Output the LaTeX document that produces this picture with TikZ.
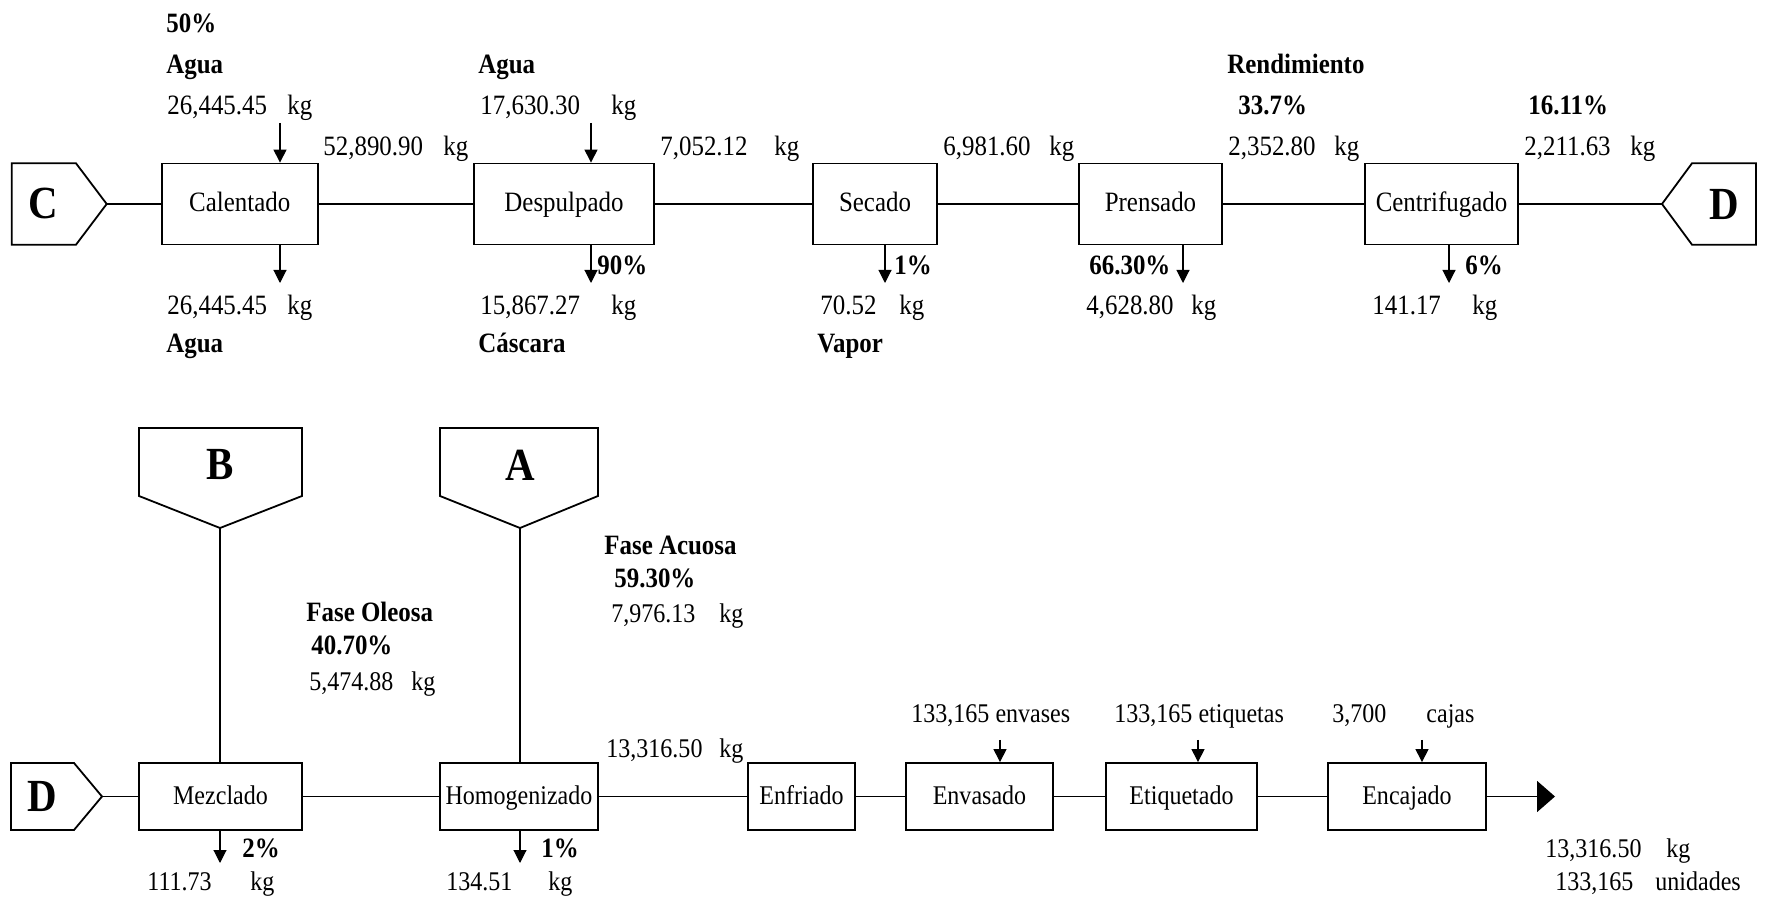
\documentclass[tikz,border=0pt]{standalone}
\usepackage{fontspec}
\setmainfont{Liberation Serif}[FakeStretch=0.89]
\usetikzlibrary{arrows.meta}

\begin{document}
\begin{tikzpicture}[x=0.5pt,y=-0.5pt,
  proc/.style={draw,line width=0.9pt,inner sep=0pt,text height=0.8em,text depth=0pt,
    font=\fontsize{14}{16}\selectfont},
  toprow/.style={minimum height=40.5pt},
  botrow/.style={minimum height=33.5pt,font=\fontsize{13.5}{16}\selectfont},
  connector/.style={draw,line width=0.9pt,fill=white},
  conn/.style={line width=0.9pt},
  arr/.style={line width=0.55pt,-{Triangle[length=6.5pt,width=6.5pt]}},
  lbl/.style={inner sep=0pt,anchor=base west,font=\fontsize{14}{16}\selectfont},
  lblb/.style={lbl,font=\fontsize{14}{16}\selectfont\bfseries},
  lbls/.style={lbl,font=\fontsize{13.5}{16}\selectfont},
  tag/.style={inner sep=0pt,font=\fontsize{23}{26}\selectfont\bfseries}
]
\useasboundingbox (0,0) rectangle (1769,898);

% ---------- first line: C to D ----------
\draw[connector] (11.7,163.3) -- (76,163.3) -- (106.7,204) -- (76,244.7) -- (11.7,244.7) -- cycle;
\coordinate (Cp) at (106.7,204);
\node[tag] (labC) at (43,204) {C};

\draw[connector] (1756,163.3) -- (1692,163.3) -- (1662,204) -- (1692,244.7) -- (1756,244.7) -- cycle;
\coordinate (Dp) at (1662,204);
\node[tag] (labD) at (1724,204) {D};

\node[proc,toprow,minimum width=78pt]   (cal)  at (239.7,204)  {Calentado};
\node[proc,toprow,minimum width=90pt]   (desp) at (564,204)    {Despulpado};
\node[proc,toprow,minimum width=62pt]   (sec)  at (875,204)    {Secado};
\node[proc,toprow,minimum width=71.5pt] (pren) at (1150.5,204) {Prensado};
\node[proc,toprow,minimum width=76.5pt] (cent) at (1441.5,204) {Centrifugado};

\draw[conn] (Cp) -- (cal.west);
\draw[conn] (cal.east) -- (desp.west);
\draw[conn] (desp.east) -- (sec.west);
\draw[conn] (sec.east) -- (pren.west);
\draw[conn] (pren.east) -- (cent.west);
\draw[conn] (cent.east) -- (Dp);

% inputs and outputs
\coordinate (calIn) at (280,123);
\coordinate (calOut) at (280,283);
\coordinate (despIn) at (591,123);
\coordinate (despOut) at (591,283);
\coordinate (secOut) at (885,283);
\coordinate (prenOut) at (1183,283);
\coordinate (centOut) at (1449,283);
\draw[arr] (calIn) -- (calIn |- cal.north);
\draw[arr] (calOut |- cal.south) -- (calOut);
\draw[arr] (despIn) -- (despIn |- desp.north);
\draw[arr] (despOut |- desp.south) -- (despOut);
\draw[arr] (secOut |- sec.south) -- (secOut);
\draw[arr] (prenOut |- pren.south) -- (prenOut);
\draw[arr] (centOut |- cent.south) -- (centOut);

% quantities above the line
\node[lblb] (p50)   at (166,33)   {50\%};
\node[lblb] (agua1) at (166,74)   {Agua};
\node[lbl]  (q1)    at (167,115)  {26,445.45};
\node[lbl]  (q1u)   at (287,115)  {kg};
\node[lbl]  (q2)    at (323,156)  {52,890.90};
\node[lbl]  (q2u)   at (443,156)  {kg};
\node[lblb] (agua2) at (478,74)   {Agua};
\node[lbl]  (q3)    at (480,115)  {17,630.30};
\node[lbl]  (q3u)   at (611,115)  {kg};
\node[lbl]  (q4)    at (660,156)  {7,052.12};
\node[lbl]  (q4u)   at (774,156)  {kg};
\node[lbl]  (q5)    at (943,156)  {6,981.60};
\node[lbl]  (q5u)   at (1049,156) {kg};
\node[lblb] (rend)  at (1227,74)  {Rendimiento};
\node[lblb] (p337)  at (1238,115) {33.7\%};
\node[lbl]  (q6)    at (1228,156) {2,352.80};
\node[lbl]  (q6u)   at (1334,156) {kg};
\node[lblb] (p1611) at (1528,115) {16.11\%};
\node[lbl]  (q7)    at (1524,156) {2,211.63};
\node[lbl]  (q7u)   at (1630,156) {kg};

% quantities below the line
\node[lbl]  (q8)    at (167,315)  {26,445.45};
\node[lbl]  (q8u)   at (287,315)  {kg};
\node[lblb] (agua3) at (166,353)  {Agua};
\node[lblb] (p90)   at (597,275)  {90\%};
\node[lbl]  (q9)    at (480,315)  {15,867.27};
\node[lbl]  (q9u)   at (611,315)  {kg};
\node[lblb] (casc)  at (478,353)  {Cáscara};
\node[lblb] (p1a)   at (894,275)  {1\%};
\node[lbl]  (q10)   at (820,315)  {70.52};
\node[lbl]  (q10u)  at (899,315)  {kg};
\node[lblb] (vap)   at (817,353)  {Vapor};
\node[lblb] (p663)  at (1089,275) {66.30\%};
\node[lbl]  (q11)   at (1086,315) {4,628.80};
\node[lbl]  (q11u)  at (1191,315) {kg};
\node[lblb] (p6)    at (1465,275) {6\%};
\node[lbl]  (q12)   at (1372,315) {141.17};
\node[lbl]  (q12u)  at (1472,315) {kg};

% ---------- second line: D onwards ----------
\draw[connector] (11,763) -- (74,763) -- (102,796.5) -- (74,830) -- (11,830) -- cycle;
\coordinate (Dq) at (102,796.5);
\node[tag] (labD2) at (42,796.5) {D};

\draw[connector] (139,428) -- (302,428) -- (302,496) -- (220,528) -- (139,496) -- cycle;
\coordinate (Bp) at (220,528);
\node[tag] (labB) at (220,465) {B};

\draw[connector] (440,428) -- (598,428) -- (598,496) -- (520,528) -- (440,496) -- cycle;
\coordinate (Ap) at (520,528);
\node[tag] (labA) at (520,465) {A};

\node[proc,botrow,minimum width=81.5pt] (mez) at (220.5,796.5)  {Mezclado};
\node[proc,botrow,minimum width=79pt]   (hom) at (519,796.5)    {Homogenizado};
\node[proc,botrow,minimum width=53.5pt] (enf) at (801.5,796.5)  {Enfriado};
\node[proc,botrow,minimum width=73.5pt] (env) at (979.5,796.5)  {Envasado};
\node[proc,botrow,minimum width=75.5pt] (eti) at (1181.5,796.5) {Etiquetado};
\node[proc,botrow,minimum width=79pt]   (enc) at (1407,796.5)   {Encajado};

\draw[conn] (Dq) -- (mez.west);
\draw[conn] (mez.east) -- (hom.west);
\draw[conn] (hom.east) -- (enf.west);
\draw[conn] (enf.east) -- (env.west);
\draw[conn] (env.east) -- (eti.west);
\draw[conn] (eti.east) -- (enc.west);
\coordinate (fin) at (1555,796.5);
\draw[conn,-{Triangle[length=9pt,width=15.5pt]}] (enc.east) -- (fin);

\draw[conn] (Bp) -- (Bp |- mez.north);
\draw[conn] (Ap) -- (Ap |- hom.north);

\coordinate (mezOut) at (220,863);
\coordinate (homOut) at (520,863);
\coordinate (envIn) at (1000,740);
\coordinate (etiIn) at (1198,740);
\coordinate (encIn) at (1422,740);
\draw[arr] (mezOut |- mez.south) -- (mezOut);
\draw[arr] (homOut |- hom.south) -- (homOut);
\draw[arr] (envIn) -- (envIn |- env.north);
\draw[arr] (etiIn) -- (etiIn |- eti.north);
\draw[arr] (encIn) -- (encIn |- enc.north);

\node[lblb] (fo)    at (306,622)  {Fase Oleosa};
\node[lblb] (p407)  at (311,655)  {40.70\%};
\node[lbls] (q13)   at (309,690)  {5,474.88};
\node[lbls] (q13u)  at (411,690)  {kg};
\node[lblb] (fa)    at (604,555)  {Fase Acuosa};
\node[lblb] (p593)  at (614,588)  {59.30\%};
\node[lbls] (q14)   at (611,623)  {7,976.13};
\node[lbls] (q14u)  at (719,623)  {kg};
\node[lbls] (q15)   at (606,757)  {13,316.50};
\node[lbls] (q15u)  at (719,757)  {kg};
\node[lblb] (p2)    at (242,857)  {2\%};
\node[lbls] (q16)   at (147,890)  {111.73};
\node[lbls] (q16u)  at (250,890)  {kg};
\node[lblb] (p1b)   at (541,857)  {1\%};
\node[lbls] (q17)   at (446,890)  {134.51};
\node[lbls] (q17u)  at (548,890)  {kg};
\node[lbls] (nenv)  at (911,723)  {133,165 envases};
\node[lbls] (neti)  at (1114,723) {133,165 etiquetas};
\node[lbls] (ncaj)  at (1332,723) {3,700};
\node[lbls] (ncaju) at (1426,723) {cajas};
\node[lbls] (q18)   at (1545,857) {13,316.50};
\node[lbls] (q18u)  at (1666,857) {kg};
\node[lbls] (nuni)  at (1555,890) {133,165};
\node[lbls] (nuniu) at (1655,890) {unidades};
\end{tikzpicture}
\end{document}
